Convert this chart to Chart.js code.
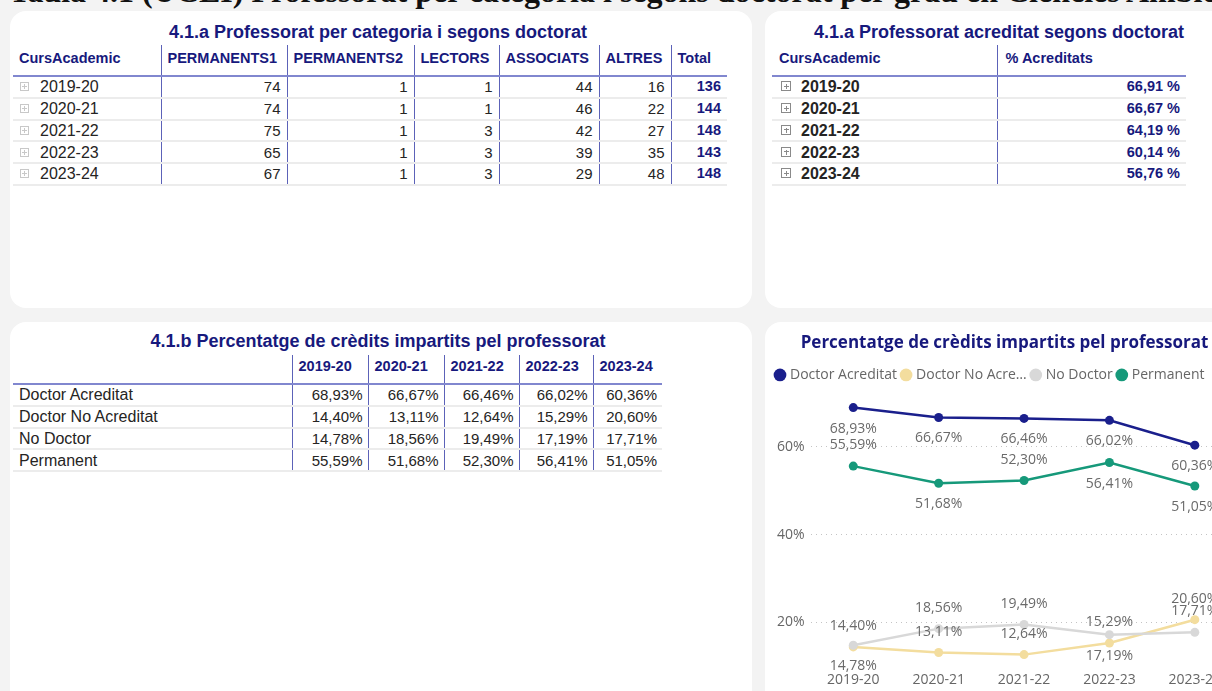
<!DOCTYPE html>
<html>
<head>
<meta charset="utf-8">
<script src="https://cdn.jsdelivr.net/npm/chart.js@4.4.1/dist/chart.umd.min.js"></script>
<style>
html, body { margin: 0; padding: 0; width: 1212px; height: 691px; overflow: hidden; background: #f3f3f3; font-family: "Liberation Sans", Arial, sans-serif; }
.page-title { position: absolute; left: 9px; top: -25px; white-space: nowrap; font: bold 32px/32px "Liberation Serif", serif; color: #111; }
.card { position: absolute; background: #fff; border-radius: 16px; }
.ttl { position: absolute; text-align: center; font-weight: bold; font-size: 18px; line-height: 20px; color: #17197d; white-space: nowrap; }
table { position: absolute; border-collapse: collapse; table-layout: fixed; }
th { font-size: 14.5px; font-weight: bold; color: #17197d; text-align: left; vertical-align: top; padding: 5px 0 0 6px; height: 25px; border-bottom: 2px solid #8187cf; white-space: nowrap; overflow: hidden; }
td { padding: 0 6px 0 0; height: 19.75px; line-height: 19px; border-bottom: 2px solid #ececec; text-align: right; font-size: 15px; color: #252423; white-space: nowrap; }
.sep { border-left: 1.5px solid #5c62b8; }
td.lbl { text-align: left; font-size: 16px; padding-left: 6px; }
td.tot { font-weight: bold; color: #17197d; font-size: 14.5px; }
.exp { display: inline-block; width: 7px; height: 7px; border: 1px solid #c8c8c8; position: relative; vertical-align: 1px; margin: 0 11px 0 1px; }
.exp::before { content: ""; position: absolute; left: 1px; top: 3px; width: 5px; height: 1px; background: #c8c8c8; }
.exp::after { content: ""; position: absolute; left: 3px; top: 1px; width: 1px; height: 5px; background: #c8c8c8; }
#t2 .exp { border-color: #8a8a8a; width: 8px; height: 8px; margin: 0 10px 0 3px; }
#t2 .exp::before { background: #8a8a8a; left: 2px; top: 3.5px; }
#t2 .exp::after { background: #8a8a8a; left: 3.5px; top: 2px; }
#t2 td.lbl { font-weight: bold; }
#chartBox { position: absolute; left: 765px; top: 322px; width: 477px; height: 372px; }
</style>
</head>
<body>
<div class="page-title">Taula 4.1 (UCEI) Professorat per categoria i segons doctorat per grau en Ciències Ambientals</div>

<div class="card" style="left:10px;top:11px;width:742px;height:297px;"></div>
<div class="card" style="left:765px;top:11px;width:480px;height:297px;"></div>
<div class="card" style="left:10px;top:322px;width:742px;height:400px;"></div>
<div class="card" style="left:765px;top:322px;width:480px;height:400px;"></div>

<div class="ttl" style="left:13px;top:22px;width:730px;">4.1.a Professorat per categoria i segons doctorat</div>
<table id="t1" style="left:13px;top:45px;width:714px;"></table>

<div class="ttl" style="left:765px;top:22px;width:468px;">4.1.a Professorat acreditat segons doctorat</div>
<table id="t2" style="left:772px;top:45px;width:414px;"></table>

<div class="ttl" style="left:13px;top:331px;width:730px;">4.1.b Percentatge de crèdits impartits pel professorat</div>
<table id="t3" style="left:13px;top:355px;width:649px;"></table>

<div id="chartBox"><canvas id="lineChart"></canvas></div>

<script>
// ---- data ----
const years = ['2019-20', '2020-21', '2021-22', '2022-23', '2023-24'];

const permanents1 = [74, 74, 75, 65, 67];
const permanents2 = [1, 1, 1, 1, 1];
const lectors = [1, 1, 3, 3, 3];
const associats = [44, 46, 42, 39, 29];
const altres = [16, 22, 27, 35, 48];
const totals = [136, 144, 148, 143, 148];

const acreditats = [66.91, 66.67, 64.19, 60.14, 56.76];

const seriesNames = ['Doctor Acreditat', 'Doctor No Acreditat', 'No Doctor', 'Permanent'];
const doctorAcreditat = [68.93, 66.67, 66.46, 66.02, 60.36];
const doctorNoAcreditat = [14.40, 13.11, 12.64, 15.29, 20.60];
const noDoctor = [14.78, 18.56, 19.49, 17.19, 17.71];
const permanent = [55.59, 51.68, 52.30, 56.41, 51.05];

const yTicks = [20, 40, 60];

// ---- styling ----
const seriesColors = ['#1a1f8c', '#f3dd9e', '#d8d8d8', '#16997a'];
// where each data label sits: -1 above the point, 1 below
const labelSide = [
    [1, 1, 1, 1, 1],
    [-1, -1, -1, -1, -1],
    [1, -1, -1, 1, -1],
    [-1, 1, -1, 1, 1]
];

const fmtPct = v => v.toFixed(2).replace('.', ',') + '%';
const expIcon = '<span class="exp"></span>';

// table 4.1.a
function buildTable1() {
    const cols = [148, 126, 127, 85, 100, 72, 56];
    const heads = ['CursAcademic', 'PERMANENTS1', 'PERMANENTS2', 'LECTORS', 'ASSOCIATS', 'ALTRES', 'Total'];
    let html = '<colgroup>' + cols.map(w => `<col style="width:${w}px">`).join('') + '</colgroup>';
    html += '<tr>' + heads.map((h, i) => `<th class="${i ? 'sep' : ''}">${h}</th>`).join('') + '</tr>';
    years.forEach((y, i) => {
        html += `<tr><td class="lbl">${expIcon}${y}</td>
            <td class="sep">${permanents1[i]}</td>
            <td class="sep">${permanents2[i]}</td>
            <td class="sep">${lectors[i]}</td>
            <td class="sep">${associats[i]}</td>
            <td class="sep">${altres[i]}</td>
            <td class="sep tot">${totals[i]}</td></tr>`;
    });
    document.getElementById('t1').innerHTML = html;
}

// table acreditats
function buildTable2() {
    let html = '<colgroup><col style="width:225px"><col style="width:189px"></colgroup>';
    html += '<tr><th style="padding-left:7px">CursAcademic</th><th class="sep" style="padding-left:8px">% Acreditats</th></tr>';
    years.forEach((y, i) => {
        html += `<tr><td class="lbl" style="padding-left:6px">${expIcon}${y}</td>
            <td class="sep tot">${acreditats[i].toFixed(2).replace('.', ',')} %</td></tr>`;
    });
    document.getElementById('t2').innerHTML = html;
}

// table 4.1.b
function buildTable3() {
    const cols = [279, 76, 76, 75, 74, 69];
    const rows = [doctorAcreditat, doctorNoAcreditat, noDoctor, permanent];
    let html = '<colgroup>' + cols.map(w => `<col style="width:${w}px">`).join('') + '</colgroup>';
    html += '<tr><th style="height:25px;padding-top:3px"></th>' + years.map(y => `<th class="sep" style="height:25px;padding-top:3px;padding-left:6px">${y}</th>`).join('') + '</tr>';
    rows.forEach((vals, r) => {
        html += `<tr><td class="lbl">${seriesNames[r]}</td>` +
            vals.map(v => `<td class="sep" style="padding-right:5px">${fmtPct(v)}</td>`).join('') + '</tr>';
    });
    document.getElementById('t3').innerHTML = html;
}

buildTable1();
buildTable2();
buildTable3();

// data labels next to each point
const pointLabels = {
    id: 'pointLabels',
    afterDatasetsDraw(chart) {
        const ctx = chart.ctx;
        ctx.save();
        ctx.font = '14px "Open Sans"';
        ctx.fillStyle = '#6a6a6a';
        ctx.textAlign = 'center';
        ctx.textBaseline = 'middle';
        chart.data.datasets.forEach((ds, i) => {
            chart.getDatasetMeta(i).data.forEach((pt, j) => {
                ctx.fillText(fmtPct(ds.data[j]), pt.x, pt.y + labelSide[i][j] * 21);
            });
        });
        ctx.restore();
    }
};

const seriesData = [doctorAcreditat, doctorNoAcreditat, noDoctor, permanent];

new Chart(document.getElementById('lineChart'), {
    type: 'line',
    data: {
        labels: years,
        datasets: seriesData.map((d, i) => ({
            label: seriesNames[i],
            data: d,
            borderColor: seriesColors[i],
            backgroundColor: seriesColors[i],
            pointBackgroundColor: seriesColors[i],
            borderWidth: 2.5,
            pointRadius: 4.5,
            pointBorderWidth: 0,
            tension: 0,
            order: 3 - i
        }))
    },
    options: {
        responsive: true,
        maintainAspectRatio: false,
        animation: false,
        layout: { padding: { left: 6, right: 4, top: 3.5, bottom: 1 } },
        scales: {
            x: {
                offset: true,
                grid: { display: false, drawTicks: false },
                border: { display: false },
                ticks: { color: '#666', padding: 5, font: { family: 'Open Sans', size: 14 } }
            },
            y: {
                min: 10,
                max: 72.5,
                afterBuildTicks: axis => { axis.ticks = yTicks.map(v => ({ value: v })); },
                grid: { color: '#c4c4c4', lineWidth: 1, drawTicks: false },
                border: { display: false, dash: [1, 4] },
                ticks: { color: '#666', padding: 6, font: { family: 'Open Sans', size: 14 }, callback: v => v + '%' }
            }
        },
        plugins: {
            title: {
                display: true,
                text: 'Percentatge de crèdits impartits pel professorat',
                color: '#17197d',
                font: { family: 'Open Sans', size: 17, weight: 'bold' },
                padding: { top: 7, bottom: 9 }
            },
            legend: {
                position: 'top',
                align: 'start',
                labels: {
                    usePointStyle: true,
                    pointStyle: 'circle',
                    boxWidth: 6,
                    boxHeight: 9,
                    padding: 6,
                    color: '#666',
                    font: { family: 'Open Sans', size: 14 },
                    sort: (a, b) => a.datasetIndex - b.datasetIndex,
                    generateLabels(chart) {
                        const items = Chart.defaults.plugins.legend.labels.generateLabels(chart);
                        items.forEach(it => { if (it.text.length > 17) it.text = it.text.slice(0, 14) + '…'; });
                        return items;
                    }
                }
            },
            tooltip: { enabled: false }
        }
    },
    plugins: [pointLabels]
});
</script>
</body>
</html>
